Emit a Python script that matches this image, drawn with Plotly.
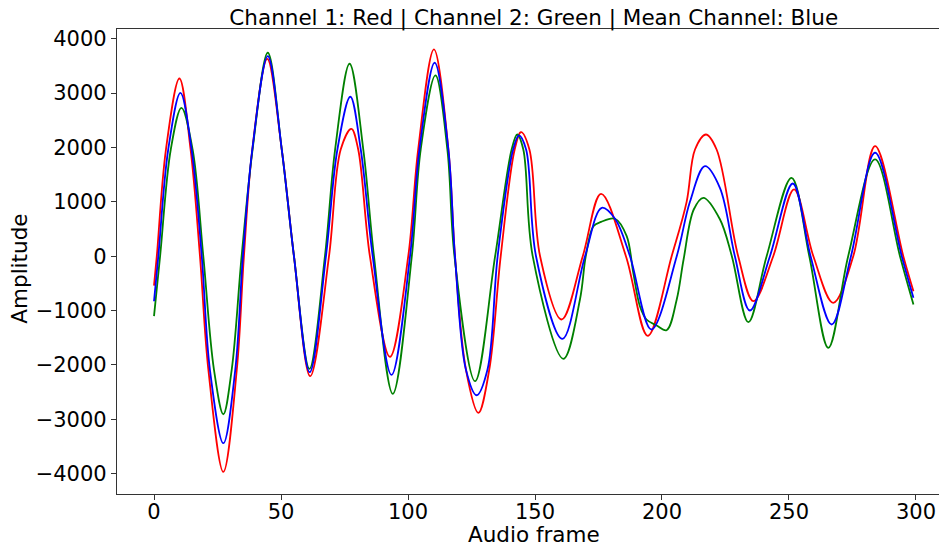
import plotly.graph_objects as go

# Channel 1 (red)
red_frames = [0, 1.1, 4.7, 10, 14.4, 18.1, 21.4, 27.3, 32.6, 35.4, 38.7, 44.6, 50.3, 55.1,
              61.5, 68.9, 73.5, 77.7, 80.4, 85, 92.9, 100.1, 104, 110.2, 115.9, 118.5, 122.8,
              127.7, 132, 136.5, 142, 144.5, 147.8, 152, 160.5, 168.8, 176, 185.8, 194.4,
              203.8, 209.7, 213, 217.3, 221.5, 230, 236, 243.8, 252, 259.6, 267.4, 275.3,
              283.9, 295, 299]
red_values = [-540, 0, 1962, 3268, 1962, 0, -2084, -3966, -2084, 0, 1962, 3630, 1962, 0,
              -2207, 0, 1962, 2343, 1962, 0, -1851, 0, 1962, 3802, 1962, 0, -2084,
              -2881, -2084, 0, 1962, 2281, 1962, 0, -1164, 0, 1147, 0, -1465,
              0, 1000, 1962, 2238, 1962, 0, -827, 0, 1227, 0, -857, 0,
              2023, 0, -644]

# Channel 2 (green)
green_frames = [0, 2.4, 6.6, 10.8, 15.2, 19.4, 23.6, 27.3, 30.6, 34.5, 38.8, 44.8, 50.3, 55.1,
                61.2, 67.3, 71.3, 77, 82.4, 86.6, 94, 101.5, 105, 110.8, 115.5, 118.3,
                126.4, 134.3, 140.8, 143, 145.4, 149.1, 161.2, 167.7, 170, 173, 176, 181.5,
                186.1, 188.7, 191.3, 193.9, 197.9, 201.8, 205.8, 208.5, 212.5, 216.3, 222.8,
                227.5, 234, 241.2, 251, 258, 265.5, 273.3, 283.9, 293.7, 299]
green_values = [-1103, 0, 1962, 2729, 1962, 0, -2084, -2906, -2084, 0, 1962, 3741, 1962, 0,
                -2071, 0, 1962, 3539, 1962, 0, -2531, 0, 1962, 3324, 1962, 0,
                -2299, 0, 1962, 2238, 1962, 0, -1887, -796, 0, 552, 630, 688,
                368, -305, -920, -1164, -1275, -1361, -796, -61, 859, 1074, 680,
                0, -1214, 0, 1442, 0, -1685, 0, 1779, 0, -888]

# Mean channel (blue)
blue_frames = [0, 1.7, 5.6, 10.4, 14.8, 18.8, 22, 27.3, 32, 35, 38.7, 44.8, 50.3, 55.1,
               61.3, 67.7, 72.2, 77.3, 81.4, 86.1, 93.5, 100.8, 104.5, 110.5, 115.9, 118.5,
               122.8, 127, 131.3, 135.3, 141.4, 143.7, 146.5, 150.4, 160.8, 169.7, 176.3,
               181.5, 187.4, 195.8, 205.8, 211, 216.9, 222.8, 228.7, 234.6, 242.5, 251.5,
               258.5, 266.8, 274.4, 283.9, 294.4, 299]
blue_values = [-828, 0, 1962, 3005, 1962, 0, -2084, -3439, -2084, 0, 1962, 3679, 1962, 0,
               -2133, 0, 1962, 2932, 1962, 0, -2182, 0, 1962, 3557, 1962, 0,
               -2084, -2557, -2084, 0, 1962, 2220, 1962, 0, -1520, 0, 890,
               688, 0, -1348, 0, 1000, 1655, 1257, 0, -999, 0, 1337,
               0, -1256, 0, 1902, 0, -766]

x_ticks = [0, 50, 100, 150, 200, 250, 300]
y_ticks = [-4000, -3000, -2000, -1000, 0, 1000, 2000, 3000, 4000]

FONT = "DejaVu Sans"
W, H = 939, 549

fig = go.Figure()
for xs, ys, col in [(red_frames, red_values, "#ff0000"),
                    (green_frames, green_values, "#008000"),
                    (blue_frames, blue_values, "#0000ff")]:
    fig.add_trace(go.Scatter(x=xs, y=ys, mode="lines",
                             line=dict(color=col, width=1.8, shape="spline", smoothing=1.0),
                             showlegend=False, hoverinfo="skip"))

fig.update_layout(
    width=W, height=H,
    margin=dict(l=117, r=0, t=29, b=55, autoexpand=False),
    paper_bgcolor="white", plot_bgcolor="white",
    font=dict(family=FONT, size=21, color="black"),
    title=dict(text="Channel 1: Red | Channel 2: Green | Mean Channel: Blue",
               x=0.507, xref="paper", xanchor="center",
               y=1 - 17 / H, yref="container", yanchor="middle",
               font=dict(family=FONT, size=21.5, color="black")),
)
fig.update_xaxes(range=[-14.57, 309.06], tickvals=x_ticks, ticktext=[str(v) for v in x_ticks],
                 showgrid=False, zeroline=False, showline=True, linecolor="#333333",
                 linewidth=1.2, mirror=True, ticks="outside", ticklen=5, tickcolor="#333333",
                 tickfont=dict(size=21), automargin=False, ticklabelstandoff=-6)
fig.update_yaxes(range=[-4373, 4178], tickvals=y_ticks,
                 ticktext=[("\u2212" + str(-v)) if v < 0 else str(v) for v in y_ticks],
                 showgrid=False, zeroline=False, showline=True, linecolor="#333333",
                 linewidth=1.2, ticks="outside", ticklen=5, tickcolor="#333333",
                 tickfont=dict(size=21), automargin=False)
fig.add_annotation(text="Audio frame", xref="paper", yref="paper", x=0.507, y=-0.088,
                   xanchor="center", yanchor="middle", showarrow=False,
                   font=dict(family=FONT, size=21.5, color="black"))
fig.add_annotation(text="Amplitude", xref="paper", yref="paper", x=-0.119, y=0.485,
                   xanchor="center", yanchor="middle", textangle=-90, showarrow=False,
                   font=dict(family=FONT, size=21.5, color="black"))

# remove the browser's default 8px body margin so the figure fills the window exactly
fig.write_html("out.html", config={"displayModeBar": False},
               post_script="document.body.style.margin='0';")
